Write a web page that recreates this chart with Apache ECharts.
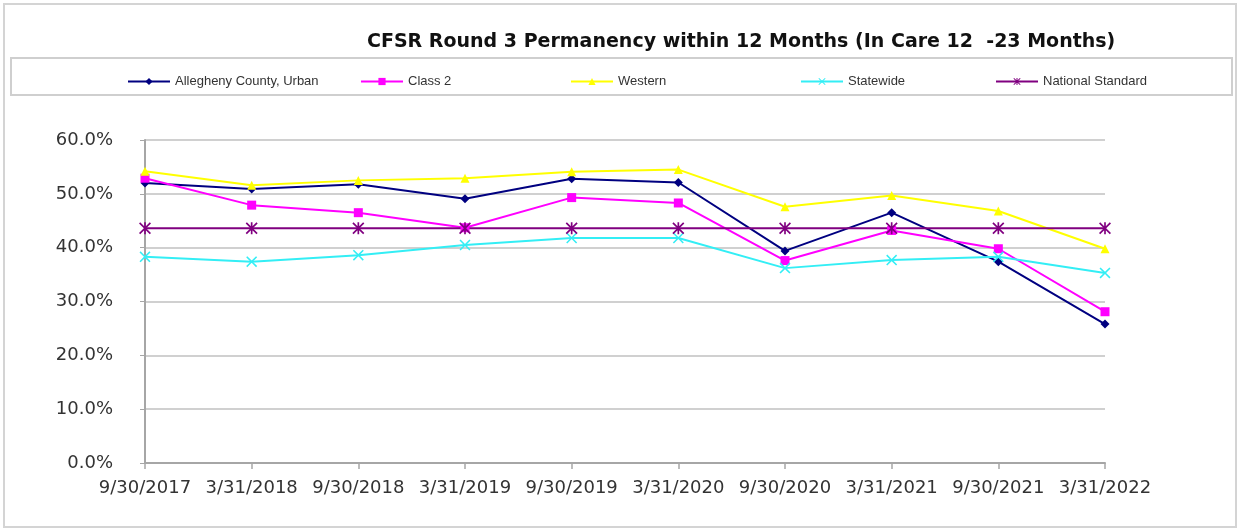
<!DOCTYPE html>
<html><head><meta charset="utf-8">
<script src="https://cdn.jsdelivr.net/npm/echarts@6/dist/echarts.min.js"></script>
<style>html,body{margin:0;padding:0;background:#fff}#c{width:1243px;height:532px}</style>
</head><body><div id="c"></div>
<script>
const categories = ['9/30/2017','3/31/2018','9/30/2018','3/31/2019','9/30/2019','3/31/2020','9/30/2020','3/31/2021','9/30/2021','3/31/2022'];
const allegheny = [52.0, 50.9, 51.8, 49.1, 52.8, 52.1, 39.4, 46.5, 37.4, 25.8];
const class2 = [52.9, 47.9, 46.5, 43.7, 49.3, 48.3, 37.6, 43.2, 39.8, 28.1];
const western = [54.2, 51.6, 52.5, 52.9, 54.1, 54.5, 47.6, 49.7, 46.8, 39.8];
const statewide = [38.3, 37.4, 38.6, 40.5, 41.8, 41.8, 36.2, 37.7, 38.3, 35.3];
const nationalStandard = [43.6, 43.6, 43.6, 43.6, 43.6, 43.6, 43.6, 43.6, 43.6, 43.6];
const yTicks = [0, 10, 20, 30, 40, 50, 60];

const xSym = 'path://M0,1L1,0L5,4L9,0L10,1L6,5L10,9L9,10L5,6L1,10L0,9L4,5Z';
const starSym = 'path://M0,1L1,0L5,4L9,0L10,1L6,5L10,9L9,10L5,6L1,10L0,9L4,5Z M4.3,0L5.7,0L5.7,10L4.3,10Z';

function mk(name, data, color, symbol, size) {
  return {
    name, type: 'line', data, symbol, symbolSize: size,
    lineStyle: { color, width: 2 },
    itemStyle: { color },
    emphasis: { disabled: true },
    animation: false
  };
}
const series = [
  mk('Allegheny County, Urban', allegheny, '#000080', 'diamond', 9),
  mk('Class 2', class2, '#ff00ff', 'rect', 9),
  mk('Western', western, '#ffff00', 'triangle', 9),
  mk('Statewide', statewide, '#33eef5', xSym, 11),
  mk('National Standard', nationalStandard, '#800080', starSym, 12)
];
const legendLefts = [122, 355, 565, 795, 990];
const legends = series.map((s, i) => ({
  data: [s.name], left: legendLefts[i], top: 70, itemWidth: 42, itemHeight: 9, itemGap: 4,
  textStyle: { fontFamily: 'Liberation Sans Narrow, Liberation Sans', fontSize: 13, color: '#333' },
  selectedMode: false
}));

const chart = echarts.init(document.getElementById('c'), null, { renderer: 'canvas' });
chart.setOption({
  backgroundColor: '#fff',
  animation: false,
  title: {
    text: 'CFSR Round 3 Permanency within 12 Months (In Care 12  -23 Months)',
    left: 362, top: 28,
    textStyle: { fontFamily: 'DejaVu Sans', fontWeight: 'bold', fontSize: 19, color: '#111' }
  },
  graphic: [
    { type: 'rect', shape: { x: 4, y: 4, width: 1232, height: 523 }, style: { fill: 'none', stroke: '#d4d4d4', lineWidth: 2 }, silent: true },
    { type: 'rect', shape: { x: 11, y: 58, width: 1221, height: 37 }, style: { fill: 'none', stroke: '#cfcfcf', lineWidth: 2 }, silent: true }
  ],
  legend: legends,
  grid: { left: 145, right: 138, top: 140, bottom: 69 },
  xAxis: {
    type: 'category', data: categories, boundaryGap: false,
    axisLine: { lineStyle: { color: '#a6a6a6', width: 2 } },
    axisTick: { show: true, length: 6, lineStyle: { color: '#a6a6a6', width: 1.5 } },
    axisLabel: { margin: 16, color: '#333', fontFamily: 'DejaVu Sans', fontSize: 18, interval: 0 }
  },
  yAxis: {
    type: 'value', min: 0, max: 60, interval: 10,
    axisLine: { show: true, lineStyle: { color: '#a6a6a6', width: 2 } },
    axisTick: { show: true, length: 5, lineStyle: { color: '#a6a6a6' } },
    splitLine: { lineStyle: { color: '#d0d0d0', width: 2 } },
    axisLabel: {
      margin: 32, color: '#333', fontFamily: 'DejaVu Sans', fontSize: 18,
      formatter: v => yTicks.includes(v) ? v.toFixed(1) + '%' : ''
    }
  },
  series
});
</script></body></html>
